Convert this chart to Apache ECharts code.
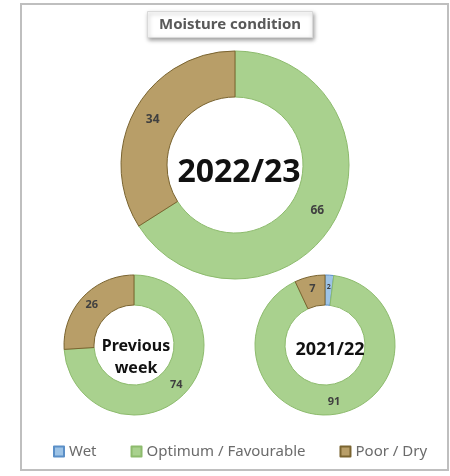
<!DOCTYPE html>
<html>
<head>
<meta charset="utf-8">
<script src="https://cdn.jsdelivr.net/npm/echarts@6/dist/echarts.min.js"></script>
<style>
  html, body { margin: 0; padding: 0; background: #fff; }
  #container { width: 450px; height: 476px; }
</style>
</head>
<body>
<div id="container"></div>
<script>
var categories = ['Wet', 'Optimum / Favourable', 'Poor / Dry'];
var current = [0, 66, 34];
var previousWeek = [0, 74, 26];
var lastSeason = [2, 91, 7];
var periods = ['2022/23', 'Previous\nweek', '2021/22'];

var colors = ['#9dc3e6', '#a9d18e', '#b89e68'];
var borders = ['#5b8fc7', '#8dbb6d', '#7a6430'];

function makeData(values, big) {
    return values.map(function (v, i) {
        return {
            name: categories[i],
            value: v,
            itemStyle: { color: colors[i], borderColor: borders[i], borderWidth: 1 },
            label: { fontSize: v < 5 ? 7 : (big ? 12 : 11) }
        };
    });
}

function ring(values, center, radius, big) {
    return {
        type: 'pie',
        center: center,
        radius: radius,
        startAngle: 90,
        clockwise: true,
        avoidLabelOverlap: false,
        silent: true,
        label: {
            show: true,
            position: 'inside',
            color: '#404040',
            fontWeight: 'bold',
            fontFamily: 'Noto Sans',
            formatter: function (p) { return p.value > 0 ? p.value : ''; }
        },
        labelLine: { show: false },
        data: makeData(values, big)
    };
}

var dom = document.getElementById('container');
var myChart = echarts.init(dom);

var option = {
    backgroundColor: '#ffffff',
    animation: false,
    title: [{
        text: 'Moisture condition',
        left: 147,
        top: 11,
        padding: [6, 12, 6, 12],
        backgroundColor: '#ffffff',
        borderColor: '#d9d9d9',
        borderWidth: 1,
        shadowBlur: 4,
        shadowOffsetX: 1,
        shadowOffsetY: 2,
        shadowColor: 'rgba(0,0,0,0.35)',
        textStyle: { fontFamily: 'Noto Sans', fontSize: 15, fontWeight: 'bold', color: '#595959' }
    }, {
        text: periods[0],
        left: 234,
        top: 168,
        textAlign: 'center',
        textVerticalAlign: 'middle',
        textStyle: { fontFamily: 'Noto Sans', fontSize: 32, fontWeight: 'bold', color: '#111' }
    }, {
        text: periods[1],
        left: 131,
        top: 352,
        textAlign: 'center',
        textVerticalAlign: 'middle',
        textStyle: { fontFamily: 'Noto Sans', fontSize: 16, fontWeight: 'bold', color: '#111', lineHeight: 22 }
    }, {
        text: periods[2],
        left: 325,
        top: 345,
        textAlign: 'center',
        textVerticalAlign: 'middle',
        textStyle: { fontFamily: 'Noto Sans', fontSize: 18, fontWeight: 'bold', color: '#111' }
    }],
    legend: {
        data: categories,
        left: 48,
        top: 439,
        icon: 'rect',
        itemWidth: 10,
        itemHeight: 10,
        itemGap: 34,
        selectedMode: false,
        textStyle: { fontFamily: 'Noto Sans', fontSize: 15, color: '#6b6b6b' }
    },
    graphic: [{
        type: 'rect',
        shape: { x: 21, y: 4, width: 427, height: 466 },
        style: { fill: null, stroke: '#bfbfbf', lineWidth: 2 },
        silent: true,
        z: -1
    }],
    series: [
        ring(current, [235, 165], [68, 114], true),
        ring(previousWeek, [134, 345], [40, 70], false),
        ring(lastSeason, [325, 345], [40, 70], false)
    ]
};

if (option && typeof option === 'object') {
    myChart.setOption(option, true);
}
</script>
</body>
</html>
